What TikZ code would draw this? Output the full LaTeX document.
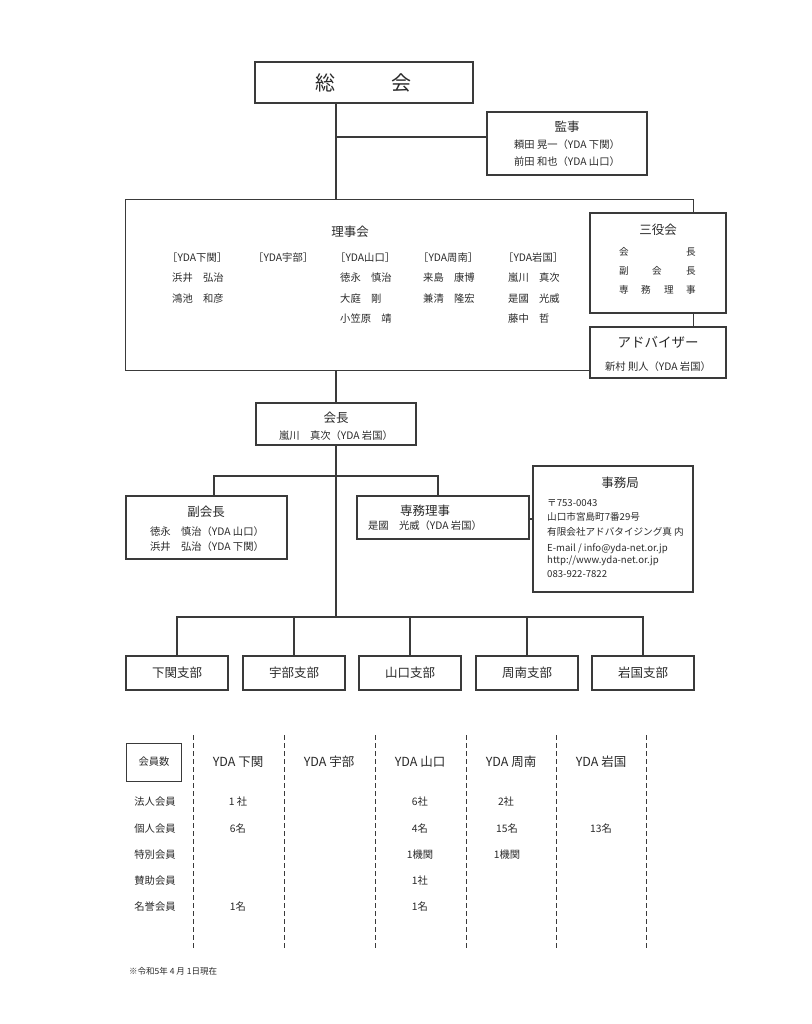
\documentclass[tikz,border=0pt]{standalone}
\usepackage{fontspec}
\setmainfont{Noto Sans CJK JP}
\definecolor{ln}{HTML}{3A3A3A}
\definecolor{tx}{HTML}{2A2A2A}
\begin{document}
\begin{tikzpicture}[x=1pt,y=-1pt,
  box/.style={draw=ln,line width=1.3pt,inner sep=0pt,fill=white},
  conn/.style={draw=ln,line width=1.3pt},
  dashl/.style={draw=ln,line width=0.9pt,dash pattern=on 5pt off 3pt},
  t/.style={inner sep=0pt,text=tx},
  tl/.style={inner sep=0pt,text=tx,anchor=west},
  f20/.style={font=\fontsize{20}{24}\selectfont},
  f14/.style={font=\fontsize{13.5}{16}\selectfont},
  f13/.style={font=\fontsize{12.5}{15}\selectfont},
  f11/.style={font=\fontsize{11}{13}\selectfont},
  f10/.style={font=\fontsize{10.3}{12}\selectfont},
  f9/.style={font=\fontsize{9.6}{11}\selectfont},
  f8/.style={font=\fontsize{8.5}{10}\selectfont}]
\useasboundingbox[fill=white] (0,0) rectangle (811,1024);

% ---------- boxes ----------
\node[box,minimum width=218pt,minimum height=41pt] (soukai) at (364,82.5) {};
\node[box,minimum width=160pt,minimum height=63pt] (kansa) at (567,143.5) {};
\node[inner sep=0pt,minimum width=567pt,minimum height=170pt] (rijikai) at (409.5,285) {};
\node[box,minimum width=136pt,minimum height=100pt] (sanyaku) at (658,263) {};
\node[box,minimum width=136pt,minimum height=51pt] (advisor) at (658,352.5) {};
\node[box,minimum width=160pt,minimum height=42pt] (kaicho) at (336,424) {};
\node[box,minimum width=161pt,minimum height=63pt] (fuku) at (206.5,527.5) {};
\node[box,minimum width=172pt,minimum height=43pt] (senmu) at (443,517.5) {};
\node[box,minimum width=160pt,minimum height=126pt] (jimu) at (613,529) {};
\node[box,minimum width=102pt,minimum height=34pt] (shimo) at (177,673) {};
\node[box,minimum width=102pt,minimum height=34pt] (ube) at (294,673) {};
\node[box,minimum width=102pt,minimum height=34pt] (yama) at (410,673) {};
\node[box,minimum width=102pt,minimum height=34pt] (shunan) at (527,673) {};
\node[box,minimum width=102pt,minimum height=34pt] (iwa) at (643,673) {};

% ---------- connectors ----------
\coordinate (kj) at (336,137);
\coordinate (fl) at (214,476);
\coordinate (fr) at (438,476);
\coordinate (sj) at (530,519);
\coordinate (bar) at (336,617);
\draw[conn] (soukai.south -| kaicho.north) -- (rijikai.north -| kaicho.north);
\draw[conn] (kj) -- (kj -| kansa.west);
\draw[conn,line join=miter] (sanyaku.north -| rijikai.east) -- (rijikai.north east) -- (rijikai.north west)
  -- (rijikai.south west) -- (rijikai.south west -| advisor.west);
\draw[conn] (sanyaku.south -| rijikai.east) -- (advisor.north -| rijikai.east);
\draw[conn] (rijikai.south -| kaicho.north) -- (kaicho.north);
\draw[conn] (kaicho.south) -- (bar);
\draw[conn] (fuku.north -| fl) -- (fl) -- (fr) -- (senmu.north -| fr);
\draw[conn] (sj -| senmu.east) -- (sj -| jimu.west);
\draw[conn] (shimo.north) -- (shimo.north |- bar) -- (iwa.north |- bar) -- (iwa.north);
\draw[conn] (ube.north) -- (ube.north |- bar);
\draw[conn] (yama.north) -- (yama.north |- bar);
\draw[conn] (shunan.north) -- (shunan.north |- bar);

% ---------- texts ----------
\node[t,f20] (tsoukai) at (363,83) {総\hspace{56pt}会};

\node[t,f13] (tkansa) at (567,127) {監事};
\node[t,f10] (tkansa1) at (567,145) {頼田 晃一（YDA 下関）};
\node[t,f10] (tkansa2) at (567,162) {前田 和也（YDA 山口）};

\node[t,f13] (trij) at (350,232) {理事会};
\node[tl,f10] (c1h) at (167,258) {［YDA下関］};
\node[tl,f10] (c1a) at (172,278) {浜井　弘治};
\node[tl,f10] (c1b) at (172,299) {鴻池　和彦};
\node[tl,f10] (c2h) at (253,258) {［YDA宇部］};
\node[tl,f10] (c3h) at (335,258) {［YDA山口］};
\node[tl,f10] (c3a) at (340,278) {徳永　慎治};
\node[tl,f10] (c3b) at (340,299) {大庭　剛};
\node[tl,f10] (c3c) at (340,319) {小笠原　靖};
\node[tl,f10] (c4h) at (418,258) {［YDA周南］};
\node[tl,f10] (c4a) at (423,278) {来島　康博};
\node[tl,f10] (c4b) at (423,299) {兼清　隆宏};
\node[tl,f10] (c5h) at (503,258) {［YDA岩国］};
\node[tl,f10] (c5a) at (508,278) {嵐川　真次};
\node[tl,f10] (c5b) at (508,299) {是國　光威};
\node[tl,f10] (c5c) at (508,319) {藤中　哲};

\node[t,f13] (tsan) at (658,230) {三役会};
\node[t,f9] (s11) at (624,252) {会};
\node[t,f9] (s12) at (691,252) {長};
\node[t,f9] (s21) at (624,271) {副};
\node[t,f9] (s22) at (657,271) {会};
\node[t,f9] (s23) at (691,271) {長};
\node[t,f9] (s31) at (624,290) {専};
\node[t,f9] (s32) at (646,290) {務};
\node[t,f9] (s33) at (669,290) {理};
\node[t,f9] (s34) at (691,290) {事};

\node[t,f14] (tadv) at (658,342) {アドバイザー};
\node[t,f10] (tadv1) at (658,367) {新村 則人（YDA 岩国）};

\node[t,f13] (tkai) at (336,418) {会長};
\node[t,f10] (tkai1) at (336,436) {嵐川　真次（YDA 岩国）};

\node[t,f13] (tfuku) at (206,512) {副会長};
\node[t,f10] (tfuku1) at (207,532) {徳永　慎治（YDA 山口）};
\node[t,f10] (tfuku2) at (207,547) {浜井　弘治（YDA 下関）};

\node[t,f13] (tsen) at (425,511) {専務理事};
\node[t,f10] (tsen1) at (425,526) {是國　光威（YDA 岩国）};

\node[t,f13] (tjimu) at (620,483) {事務局};
\node[tl,f9] (j1) at (547,503) {〒753-0043};
\node[tl,f9] (j2) at (547,517) {山口市宮島町7番29号};
\node[tl,f9] (j3) at (547,532) {有限会社アドバタイジング真 内};
\node[tl,f9] (j4) at (547,549) {E-mail / info@yda-net.or.jp};
\node[tl,f9] (j5) at (547,561) {http://www.yda-net.or.jp};
\node[tl,f9] (j6) at (547,574) {083-922-7822};

\node[t,f13] at (shimo) {下関支部};
\node[t,f13] at (ube) {宇部支部};
\node[t,f13] at (yama) {山口支部};
\node[t,f13] at (shunan) {周南支部};
\node[t,f13] at (iwa) {岩国支部};

% ---------- table ----------
\foreach \x in {193,284,375,466,556,646} \draw[dashl] (\x,735) -- (\x,948);
\node[box,line width=0.9pt,minimum width=55pt,minimum height=38pt] (kaiin) at (154,762) {};
\node[t,f10] at (kaiin) {会員数};
\node[t,f13] (h1) at (238,762) {YDA 下関};
\node[t,f13] (h2) at (329,762) {YDA 宇部};
\node[t,f13] (h3) at (420,762) {YDA 山口};
\node[t,f13] (h4) at (511,762) {YDA 周南};
\node[t,f13] (h5) at (601,762) {YDA 岩国};
\node[t,f10] (r1) at (155,802) {法人会員};
\node[t,f10] (r2) at (155,829) {個人会員};
\node[t,f10] (r3) at (155,855) {特別会員};
\node[t,f10] (r4) at (155,881) {賛助会員};
\node[t,f10] (r5) at (155,907) {名誉会員};
\node[t,f10] at (238,802) {1 社};
\node[t,f10] at (238,829) {6名};
\node[t,f10] at (238,907) {1名};
\node[t,f10] at (420,802) {6社};
\node[t,f10] at (420,829) {4名};
\node[t,f10] at (420,855) {1機関};
\node[t,f10] at (420,881) {1社};
\node[t,f10] at (420,907) {1名};
\node[t,f10] at (506,802) {2社};
\node[t,f10] at (507,829) {15名};
\node[t,f10] at (507,855) {1機関};
\node[t,f10] at (601,829) {13名};

\node[tl,f8] (note) at (129,971) {※令和5年 4 月 1日現在};
\end{tikzpicture}
\end{document}
